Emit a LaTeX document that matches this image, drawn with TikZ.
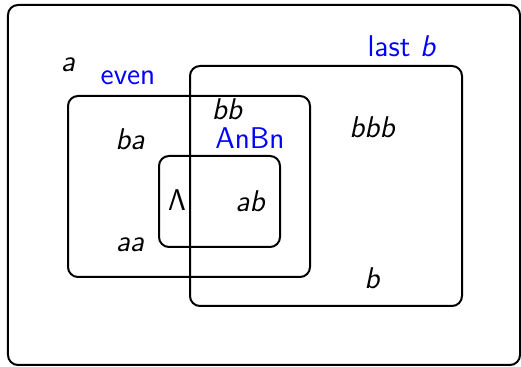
\RequirePackage{fix-cm}
\documentclass[tikz,border=0pt]{standalone}
\usepackage{tikz}
\usetikzlibrary{positioning}
\tikzset{%
	set/.style={draw, line width=1pt, rounded corners=5pt},
	word/.style={font=\fontsize{15}{18}\selectfont\sffamily\itshape, inner sep=0mm},
	lang/.style={font=\fontsize{15}{18}\selectfont\sffamily, text=blue, inner sep=0mm}
}
\begin{document}
\begin{tikzpicture}[x=0.5pt, y=-0.5pt]
	\useasboundingbox (0,0) rectangle (521,367);
	\draw[set] (8,5) rectangle (520,365);
	\draw[set] (68,96) rectangle (310,277);
	\draw[set] (190,66) rectangle (462,306);
	\draw[set] (159,156) rectangle (280,247);

	\node[lang] (even) at (128,78) {even};
	\node[lang] (lastb) at (402,46) {last \textit{b}};
	\node[lang] (anbn) at (250,138) {AnBn};

	\node[word] (a) at (68,65) {a};
	\node[word] (bb) at (227,109) {bb};
	\node[word] (ba) at (130,139) {ba};
	\node[word] (lambda) at (177,200) {$\mathsf{\Lambda}$};
	\node[word] (ab) at (250,201) {ab};
	\node[word] (aa) at (130,245) {aa};
	\node[word] (bbb) at (372,127) {bbb};
	\node[word] (b) at (372,278) {b};
\end{tikzpicture}
\end{document}
